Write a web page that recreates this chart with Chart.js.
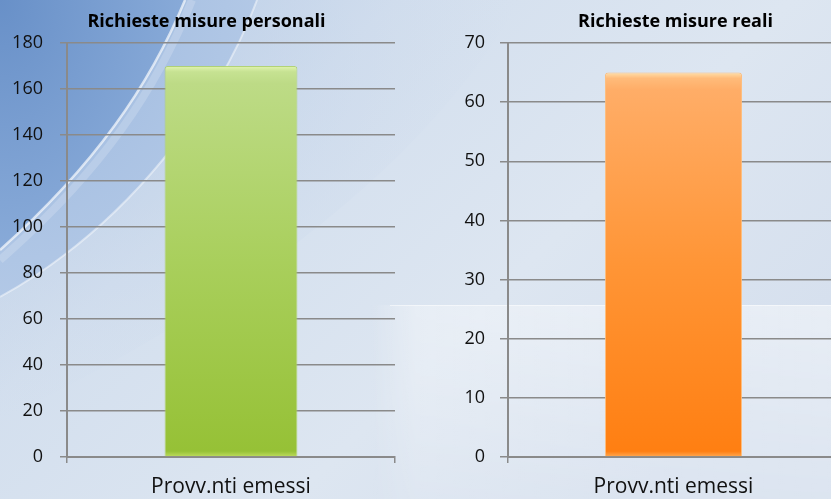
<!DOCTYPE html>
<html>
<head>
<meta charset="utf-8">
<script src="https://cdn.jsdelivr.net/npm/chart.js@4.4.1/dist/chart.umd.min.js"></script>
<style>
  html, body { margin: 0; padding: 0; width: 831px; height: 499px; overflow: hidden; }
  body { position: relative; background: #dbe4f0; }
  #bg { position: absolute; left: 0; top: 0; }
  #c1wrap { position: absolute; left: 0; top: 0; width: 415px; height: 499px; }
  #c2wrap { position: absolute; left: 415px; top: 0; width: 430px; height: 499px; }
</style>
</head>
<body>
<svg id="bg" width="831" height="499" viewBox="0 0 831 499">
  <defs>
    <linearGradient id="base" x1="0" y1="0" x2="1" y2="0.6">
      <stop offset="0" stop-color="#bccfe7"/>
      <stop offset="0.35" stop-color="#d3dfee"/>
      <stop offset="0.7" stop-color="#dde6f1"/>
      <stop offset="1" stop-color="#d6e0ee"/>
    </linearGradient>
    <radialGradient id="blue1" cx="0" cy="0" r="1">
      <stop offset="0" stop-color="#6890c8"/>
      <stop offset="1" stop-color="#88aad8"/>
    </radialGradient>
    <radialGradient id="blue2" cx="0" cy="0" r="1">
      <stop offset="0" stop-color="#9ab7de"/>
      <stop offset="1" stop-color="#b2c8e6"/>
    </radialGradient>
    <radialGradient id="blue3" cx="0" cy="0" r="1">
      <stop offset="0" stop-color="#b2c8e6"/>
      <stop offset="1" stop-color="rgba(205,218,236,0)"/>
    </radialGradient>
    <linearGradient id="band" x1="0" y1="0" x2="1" y2="0">
      <stop offset="0" stop-color="#ffffff" stop-opacity="0"/>
      <stop offset="0.1" stop-color="#ffffff" stop-opacity="0.35"/>
      <stop offset="1" stop-color="#ffffff" stop-opacity="0.45"/>
    </linearGradient>
    <linearGradient id="bandV" x1="0" y1="0" x2="0" y2="1">
      <stop offset="0" stop-color="#ffffff" stop-opacity="1"/>
      <stop offset="1" stop-color="#ffffff" stop-opacity="0.35"/>
    </linearGradient>
    <mask id="bandMask"><rect x="370" y="305" width="461" height="194" fill="url(#bandV)"/></mask>
  </defs>
  <rect x="0" y="0" width="831" height="499" fill="url(#base)"/>
  <path d="M0,0 L520,0 C430,160 250,300 0,420 Z" fill="url(#blue3)"/>
  <path d="M0,0 L257,0 C220,100 130,225 0,297 Z" fill="url(#blue2)"/>
  <path d="M0,0 L185,0 C150,85 95,165 0,250 Z" fill="url(#blue1)"/>
  <path d="M185,0 C150,85 95,165 0,250" fill="none" stroke="#ffffff" stroke-opacity="0.65" stroke-width="2.5"/>
  <path d="M192,0 C157,88 103,170 0,260" fill="none" stroke="#ffffff" stroke-opacity="0.18" stroke-width="8"/>
  <path d="M257,0 C220,100 130,225 0,297" fill="none" stroke="#ffffff" stroke-opacity="0.45" stroke-width="2"/>
  <rect x="370" y="305" width="461" height="194" fill="url(#band)" mask="url(#bandMask)"/>
  <line x1="390" y1="305.5" x2="831" y2="305.5" stroke="#ffffff" stroke-opacity="0.5" stroke-width="1"/>
</svg>
<div id="c1wrap"><canvas id="c1"></canvas></div>
<div id="c2wrap"><canvas id="c2"></canvas></div>
<script>
const categories = ["Provv.nti emessi"];
const titlePersonali = "Richieste misure personali";
const titleReali = "Richieste misure reali";
const valuesPersonali = [170];
const valuesReali = [65];
const ticksPersonali = { min: 0, max: 180, step: 20 };
const ticksReali = { min: 0, max: 70, step: 10 };

const FONT = "'Open Sans', 'Lato', sans-serif";
const GRID = "#8a8a8a";

const titlePlugin = {
  id: 'posTitle',
  afterDraw(chart, args, o) {
    const c = chart.ctx;
    c.save();
    c.font = "bold 18px " + FONT;
    c.fillStyle = '#000';
    c.textAlign = 'center';
    c.textBaseline = 'middle';
    c.fillText(o.text, o.x, o.y);
    c.restore();
  }
};

function barGradient(stops) {
  return function (ctx) {
    const chart = ctx.chart;
    if (!chart.chartArea) return stops[stops.length - 1][1];
    const yScale = chart.scales.y;
    const top = yScale.getPixelForValue(ctx.raw);
    const base = yScale.getPixelForValue(0);
    const g = chart.ctx.createLinearGradient(0, top, 0, base);
    stops.forEach(s => g.addColorStop(s[0], s[1]));
    return g;
  };
}

function makeChart(id, title, values, tk, opts) {
  return new Chart(document.getElementById(id), {
    type: 'bar',
    plugins: [titlePlugin],
    data: {
      labels: categories,
      datasets: [{
        data: values,
        backgroundColor: barGradient(opts.stops),
        borderColor: opts.border,
        borderWidth: 1,
        borderRadius: { topLeft: 3, topRight: 3, bottomLeft: 0, bottomRight: 0 },
        borderSkipped: 'bottom',
        barPercentage: opts.barPct,
        categoryPercentage: 1
      }]
    },
    options: {
      responsive: true,
      maintainAspectRatio: false,
      animation: false,
      layout: { padding: { left: 0, right: opts.padRight, top: 43, bottom: 0 } },
      plugins: {
        legend: { display: false },
        tooltip: { enabled: false },
        title: { display: false },
        posTitle: { text: title, x: opts.titleX, y: 22 }
      },
      scales: {
        x: {
          afterFit: s => { s.height = 42; },
          grid: { display: true, drawOnChartArea: false, drawTicks: true, tickLength: 6, color: GRID, lineWidth: 1.5, offset: true },
          border: { display: true, color: GRID, width: 2 },
          ticks: { color: '#111', font: { family: FONT, size: 21 }, padding: 11 }
        },
        y: {
          min: tk.min, max: tk.max,
          afterFit: s => { s.width = opts.yWidth; },
          grid: { color: GRID, lineWidth: 1.5, tickLength: opts.tickLen, drawTicks: true },
          border: { display: true, color: GRID, width: 2 },
          ticks: { stepSize: tk.step, color: '#111', font: { family: FONT, size: 18 }, padding: opts.tickPad }
        }
      }
    }
  });
}

makeChart('c1', titlePersonali, valuesPersonali, ticksPersonali, {
  stops: [[0, '#e2f4b0'], [0.015, '#c6e292'], [0.045, '#bddb86'], [0.5, '#a9cf5c'], [0.985, '#96c136'], [1, '#c0de60']],
  border: 'rgba(175,210,105,0.9)', barPct: 0.405, padRight: 20, yWidth: 67, tickLen: 7, tickPad: 17, titleX: 206.5
});
makeChart('c2', titleReali, valuesReali, ticksReali, {
  stops: [[0, '#ffe0aa'], [0.015, '#ffbb7a'], [0.045, '#ffad67'], [0.5, '#ff9536'], [0.985, '#ff7f12'], [1, '#ffaa55']],
  border: 'rgba(255,185,115,0.9)', barPct: 0.414, padRight: 6, yWidth: 93, tickLen: 8, tickPad: 15, titleX: 260.5
});
</script>
</body>
</html>
